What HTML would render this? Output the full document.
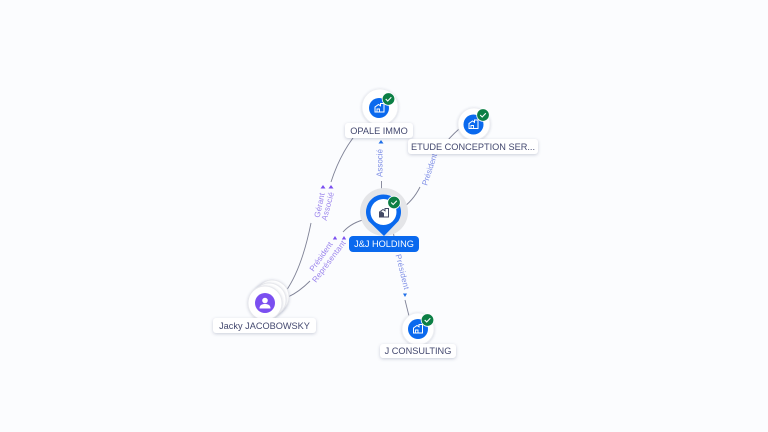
<!DOCTYPE html>
<html><head><meta charset="utf-8">
<style>
html,body{margin:0;padding:0}
body{width:768px;height:432px;background:#fbfcfe;overflow:hidden;position:relative;font-family:"Liberation Sans",sans-serif}
.l{position:absolute;background:#fff;border-radius:3px;box-shadow:0 1px 3px rgba(60,70,110,.25);color:#43486f;font-size:9.2px;text-align:center;white-space:nowrap}
svg{position:absolute;left:0;top:0}
text{font-family:"Liberation Sans",sans-serif}
.e{font-size:8px;fill:#7f8fe6}
.p{font-size:8px;fill:#9a83ec}
</style></head><body>
<svg width="768" height="432" viewBox="0 0 768 432">
<defs>
<filter id="s" x="-30%" y="-30%" width="160%" height="160%"><feDropShadow dx="0" dy="0.5" stdDeviation="1.2" flood-color="#3c466e" flood-opacity=".25"/></filter>
<g id="b"><path d="M-4.5 4V-1L-1 -3.5 1 -2.2V-4.5H4.5V4Z" fill="none" stroke="#fff" stroke-width="1"/><path d="M-2.5 4V1H0V4" fill="none" stroke="#fff" stroke-width=".9"/></g>
<g id="c"><circle r="6.3" fill="#0c7f45" stroke="#fff" stroke-width=".8"/><path d="M-2.8 0L-.8 2 2.8 -1.8" fill="none" stroke="#fff" stroke-width="1.1"/></g>
</defs>
<g fill="none" stroke="#7f8296" stroke-width=".9">
<path d="M381.5 196V181"/>
<path d="M401 209Q413 201 420 187"/>
<path d="M442 147Q450 137 459 129"/>
<path d="M393 229L396 252"/>
<path d="M405 300L409 316"/>
<path d="M286 291Q302 268 311 223"/>
<path d="M331 182Q342 148 363 126"/>
<path d="M288 297Q299 292 310 281"/>
<path d="M343 232Q352 222 367 219"/>
</g>
<path d="M381 140l2.5 3.500h-5z" fill="#1f6fe8"/>
<path d="M405 297l-2-3.500h4z" fill="#1f6fe8"/>
<path d="M323 185l2.500 3.500h-5z M331 185l2.500 3.500h-5z M335 236l2.200 3.500h-4.400z M344 236l2.200 3.500h-4.400z" fill="#7b4ff0"/>
<text class="e" transform="translate(382.500,177) rotate(-90)" textLength="28">Associé</text>
<text class="e" transform="translate(427,186) rotate(-72)" textLength="33">Président</text>
<text class="e" transform="translate(395.500,255) rotate(76)" textLength="36">Président</text>
<text class="p" transform="translate(319.500,218) rotate(-78)" textLength="25">Gérant</text>
<text class="p" transform="translate(326.500,221) rotate(-75)" textLength="29">Associé</text>
<text class="p" transform="translate(313.500,272) rotate(-55)" textLength="34">Président</text>
<text class="p" transform="translate(316,283) rotate(-53)" textLength="50">Représentant</text>

<!-- Opale -->
<circle cx="380" cy="107" r="18" fill="#fff" stroke="#eceef2" stroke-width=".8" filter="url(#s)"/>
<circle cx="379" cy="108" r="10" fill="#0a69ee"/>
<use href="#b" x="379.500" y="108"/>
<use href="#c" x="388.500" y="99"/>
<!-- Etude -->
<circle cx="474" cy="124" r="16" fill="#fff" stroke="#eceef2" stroke-width=".8" filter="url(#s)"/>
<circle cx="473.500" cy="124.500" r="10" fill="#0a69ee"/>
<use href="#b" x="473.500" y="124.500"/>
<use href="#c" x="483" y="115"/>
<!-- J consulting -->
<circle cx="418" cy="329" r="16" fill="#fff" stroke="#eceef2" stroke-width=".8" filter="url(#s)"/>
<circle cx="418" cy="329" r="10" fill="#0a69ee"/>
<use href="#b" x="418" y="329"/>
<use href="#c" x="427.500" y="320"/>
<!-- Jacky -->
<circle cx="272" cy="297" r="17" fill="#fff" stroke="#e6e7ec" stroke-width=".9" filter="url(#s)"/>
<circle cx="269" cy="300" r="17" fill="#fff" stroke="#e6e7ec" stroke-width=".9" filter="url(#s)"/>
<circle cx="265" cy="303" r="17" fill="#fff" stroke="#e6e7ec" stroke-width=".9" filter="url(#s)"/>
<circle cx="265" cy="303" r="10" fill="#7b4ff0"/>
<circle cx="265" cy="300.500" r="2.800" fill="#fff"/>
<path d="M259.500 308.500c0-3.500 2.500-4.500 5.500-4.500s5.500 1 5.500 4.500z" fill="#fff"/>
<!-- J&J -->
<circle cx="384" cy="212" r="24" fill="#e4e5e8"/>
<path d="M368.500 221A17.500 17.500 0 1 1 398.500 221L384 236Z" fill="#0a69ee"/>
<circle cx="383.500" cy="212" r="13" fill="#fff"/>
<g transform="translate(384,213)"><path d="M-4.500 4V-1L-1 -3.500 1 -2.200V-4.500H4.500V4Z" fill="#fff" stroke="#444a66" stroke-width="1"/><path d="M-5 4.500V0L-2.500 -1.500 0 0V4.500Z" fill="#444a66"/></g>
<use href="#c" x="394" y="202.500"/>
</svg>
<div class="l" style="left:345px;top:123px;width:68px;height:15px;line-height:16px">OPALE IMMO</div>
<div class="l" style="left:408px;top:139px;width:130px;height:15px;line-height:16px">ETUDE CONCEPTION SER...</div>
<div class="l" style="left:349px;top:236px;width:70px;height:16px;line-height:17px;background:#0a69ee;color:#fff;box-shadow:none;border-radius:4px">J&amp;J HOLDING</div>
<div class="l" style="left:213px;top:318px;width:103px;height:15px;line-height:16px">Jacky JACOBOWSKY</div>
<div class="l" style="left:380px;top:344px;width:76px;height:14px;line-height:15px">J CONSULTING</div>
</body></html>
